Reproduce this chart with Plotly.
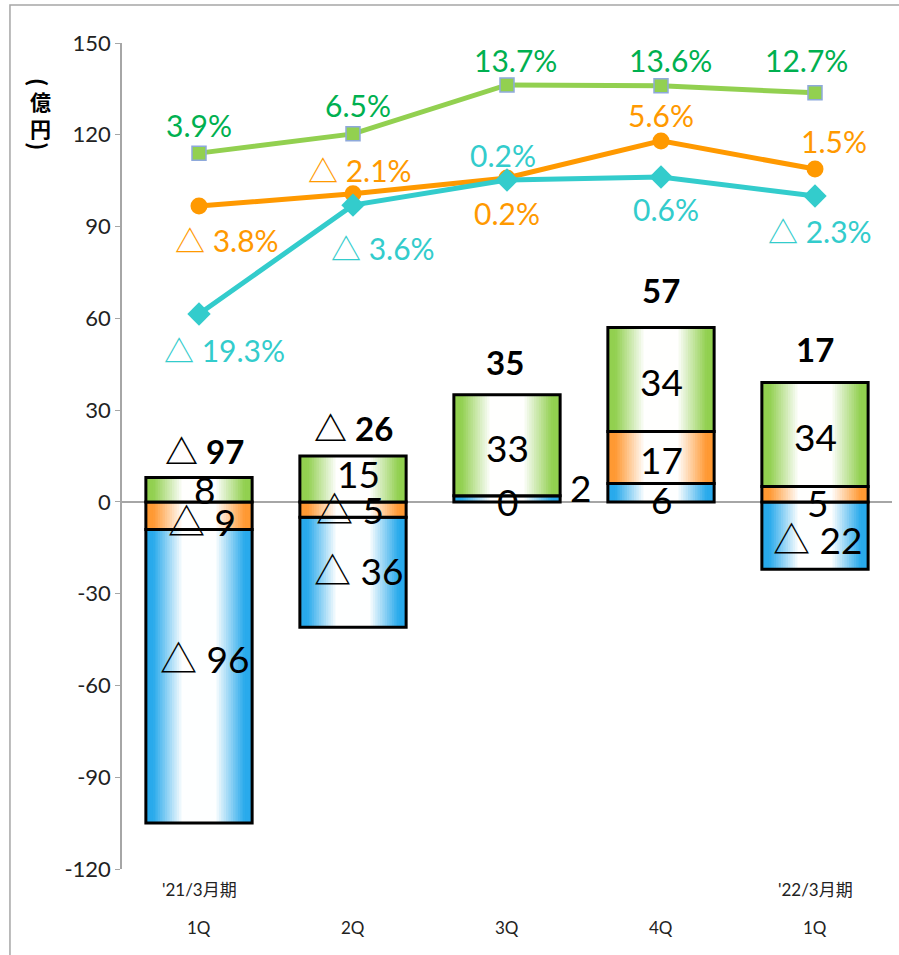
import plotly.graph_objects as go

# ---------------- data ----------------
quarters = ["1Q", "2Q", "3Q", "4Q", "1Q"]
period_labels = ["'21/3月期", "", "", "", "'22/3月期"]

blue_vals = [-96, -36, 2, 6, -22]
orange_vals = [-9, -5, 0, 17, 5]
green_vals = [8, 15, 33, 34, 34]

blue_text = ["△ 96", "△ 36", "0", "6", "△ 22"]
orange_text = ["△ 9", "△ 5", "2", "17", "5"]
green_text = ["8", "15", "33", "34", "34"]
total_text = ["△ 97", "△ 26", "35", "57", "17"]

green_line = [114, 120.3, 136.3, 136, 133.7]
orange_line = [96.7, 100.7, 105.9, 118, 108.8]
cyan_line = [61.4, 97, 105.2, 106.2, 100]

green_pct = ["3.9%", "6.5%", "13.7%", "13.6%", "12.7%"]
orange_pct = ["△ 3.8%", "△ 2.1%", "0.2%", "5.6%", "1.5%"]
cyan_pct = ["△ 19.3%", "△ 3.6%", "0.2%", "0.6%", "△ 2.3%"]

y_ticks = [150, 120, 90, 60, 30, 0, -30, -60, -90, -120]
y_tick_text = ["150", "120", "90", "60", "30", "0", "-30", "-60", "-90", "-120"]

# ---------------- styles ----------------
FONT = "Lato, 'Noto Sans CJK JP', 'DejaVu Sans', sans-serif"
BLUE = (41, 170, 236)
ORANGE = (255, 153, 51)
GREEN = (146, 208, 80)
W = 0.69
N_LAYERS = 16

xs = list(range(len(quarters)))

# stacking: positives blue->orange->green, negatives orange->blue->green
pos_order = ["blue", "orange", "green"]
neg_order = ["orange", "blue", "green"]
vals = {"blue": blue_vals, "orange": orange_vals, "green": green_vals}
bases = {k: [0] * len(xs) for k in vals}
tops_pos = [0] * len(xs)
for i in xs:
    p = 0
    for k in pos_order:
        v = vals[k][i]
        if v >= 0:
            bases[k][i] = p
            p += v
    tops_pos[i] = p
    n = 0
    for k in neg_order:
        v = vals[k][i]
        if v < 0:
            bases[k][i] = n
            n += v

fig = go.Figure()


def mix(c, s):
    r = int(255 + (c[0] - 255) * s)
    g = int(255 + (c[1] - 255) * s)
    b = int(255 + (c[2] - 255) * s)
    return f"rgb({r},{g},{b})"


edge = {"blue": BLUE, "orange": ORANGE, "green": GREEN}
INNER = 0.33
for k in ["blue", "orange", "green"]:
    for j in range(N_LAYERS):
        frac = 1 - j / (N_LAYERS - 1) * (1 - INNER)
        s = max(0.0, min(1.0, (frac - INNER) / 0.55))
        fig.add_trace(go.Bar(
            x=xs, y=vals[k], base=bases[k], width=W * frac,
            marker=dict(color=mix(edge[k], s), line=dict(width=0)),
            showlegend=False, hoverinfo="skip"))
    fig.add_trace(go.Bar(
        x=xs, y=vals[k], base=bases[k], width=W,
        marker=dict(color="rgba(0,0,0,0)", line=dict(color="black", width=3)),
        showlegend=False, hoverinfo="skip"))

# lines
fig.add_trace(go.Scatter(
    x=xs, y=green_line, mode="lines+markers",
    line=dict(color="#92D050", width=5),
    marker=dict(symbol="square", size=14, color="#92D050",
                line=dict(color="#8EA9DB", width=1.5)),
    showlegend=False, hoverinfo="skip"))
fig.add_trace(go.Scatter(
    x=xs, y=orange_line, mode="lines+markers",
    line=dict(color="#FF9900", width=5),
    marker=dict(symbol="circle", size=17, color="#FF9900"),
    showlegend=False, hoverinfo="skip"))
fig.add_trace(go.Scatter(
    x=xs, y=cyan_line, mode="lines+markers",
    line=dict(color="#33CCCC", width=5),
    marker=dict(symbol="diamond", size=18, color="#33CCCC"),
    showlegend=False, hoverinfo="skip"))

ann = []


def add(x, y, text, size, color, xs_=0, ys_=0, bold=False, **kw):
    d = dict(x=x, y=y, xref="x", yref="y", text=f"<b>{text}</b>" if bold else text,
             showarrow=False, xshift=xs_, yshift=ys_,
             font=dict(family=FONT, size=size, color=color))
    d.update(kw)
    ann.append(d)


# percentage labels
g_sh = [(0, 28), (5, 29), (8, 25), (9, 26), (-9, 33)]
o_sh = [(28, -34), (7, 24), (0, -35), (0, 26), (19, 28)]
c_sh = [(25, -36), (30, -43), (-4, 25), (5, -32), (5, -35)]
for i in xs:
    add(i, green_line[i], green_pct[i], 30, "#00B050", *g_sh[i])
    add(i, orange_line[i], orange_pct[i], 30, "#FF9900", *o_sh[i])
    add(i, cyan_line[i], cyan_pct[i], 30, "#33CCCC", *c_sh[i])

# segment labels
b_sh = [(5, 18), (5, 2), (0, -3), (0, -7), (2, -4)]
o2_sh = [(3, -6), (-3, 0), (73, 8), (0, -2), (2, -8)]
gr_sh = [(5, 0), (5, 5), (0, -2), (0, -2), (0, -2)]
for i in xs:
    bc = bases["blue"][i] + blue_vals[i] / 2
    oc = bases["orange"][i] + orange_vals[i] / 2
    gc = bases["green"][i] + green_vals[i] / 2
    add(i, bc, blue_text[i], 37, "black", *b_sh[i])
    add(i, oc, orange_text[i], 37, "black", *o2_sh[i])
    add(i, gc, green_text[i], 37, "black", *gr_sh[i])

# totals
t_sh = [(5, 26), (0, 28), (-2, 33), (0, 38), (0, 34)]
for i in xs:
    add(i, tops_pos[i], total_text[i], 33, "black", *t_sh[i], bold=True)

# category labels
for i in xs:
    if period_labels[i]:
        ann.append(dict(x=i, y=-0.0254, xref="x", yref="paper", text=period_labels[i],
                        showarrow=False, font=dict(family=FONT, size=17, color="#222"),
                        xanchor="center", yanchor="middle"))
    ann.append(dict(x=i, y=-0.0714, xref="x", yref="paper", text=quarters[i],
                    showarrow=False, font=dict(family=FONT, size=17, color="#222"),
                    xanchor="center", yanchor="middle"))

# axis title (vertical): rotated parentheses around 億円
TITLE_FONT = "'Noto Sans CJK JP', sans-serif"
TX = (40 - 122) / 770
title_parts = [("<b>(</b>", 82, 90, 22), ("<b>億<br>円</b>", 114, 0, 21),
               ("<b>)</b>", 146, 90, 22)]
for txt, py, ang, sz in title_parts:
    ann.append(dict(x=TX, y=1 - (py - 43) / 826, xref="paper", yref="paper",
                    text=txt, textangle=ang, showarrow=False,
                    xanchor="center", yanchor="middle",
                    font=dict(family=TITLE_FONT, size=sz, color="black")))

fig.update_layout(
    width=899, height=955,
    margin=dict(l=122, r=7, t=43, b=86),
    plot_bgcolor="white", paper_bgcolor="white",
    barmode="overlay",
    annotations=ann,
    shapes=[dict(type="rect", xref="paper", yref="paper",
                 x0=-0.1455, x1=1.2, y0=-0.3, y1=1.046,
                 line=dict(color="#A6A6A6", width=1.5), layer="below")],
    xaxis=dict(range=[-0.5, 4.5], showticklabels=False, showgrid=False,
               zeroline=False, showline=False, ticks=""),
    yaxis=dict(range=[-120, 150], tickmode="array", tickvals=y_ticks, ticktext=y_tick_text,
               showgrid=False,
               zeroline=True, zerolinecolor="#A6A6A6", zerolinewidth=1.5,
               showline=True, linecolor="#A6A6A6", linewidth=1.5,
               ticks="outside", ticklen=5, tickcolor="#A6A6A6",
               tickfont=dict(family=FONT, size=22, color="#222")),
)

fig.write_html("out.html", config={"displayModeBar": False},
               post_script="document.body.style.margin='0';")
